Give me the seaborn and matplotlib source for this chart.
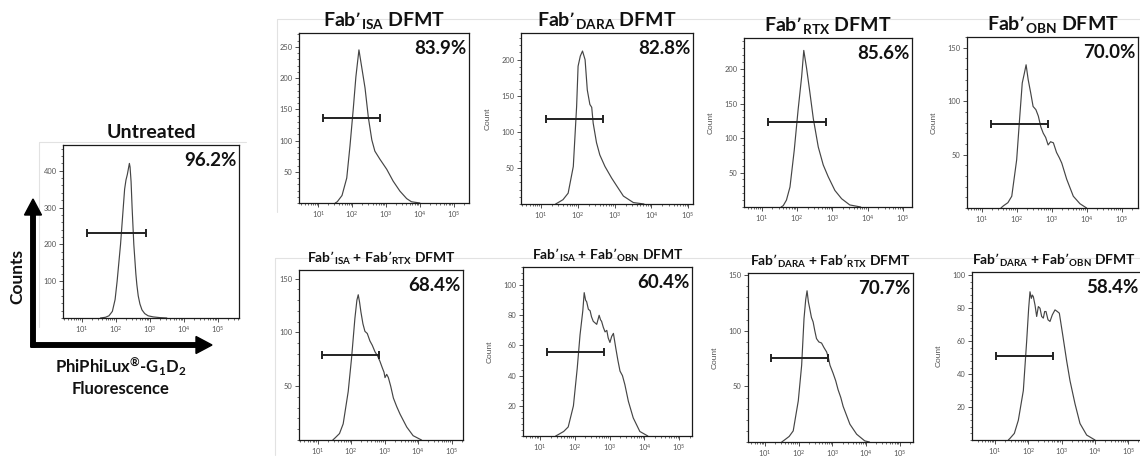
import numpy as np
import matplotlib
matplotlib.use("Agg")
import matplotlib.pyplot as plt
import seaborn as sns
from matplotlib.ticker import LogLocator, NullFormatter, FixedLocator, AutoMinorLocator

# ---- histogram data: log10 fluorescence vs. cell count ----
untreated_log_fl = [1.55, 1.70, 1.80, 1.90, 1.98, 2.04, 2.10, 2.14, 2.18, 2.22, 2.26, 2.30, 2.34,
                    2.37, 2.40, 2.42, 2.45, 2.48, 2.51, 2.53, 2.56, 2.59, 2.62, 2.66, 2.71, 2.77,
                    2.85, 2.95, 3.10, 3.30, 3.50]
untreated_count = [0, 2, 6, 18, 50, 100, 160, 200, 250, 300, 350, 375, 390,
                   405, 420, 410, 370, 300, 240, 200, 160, 120, 90, 60, 38, 22,
                   12, 6, 3, 1, 0]

isa_log_fl = [1.50, 1.56, 1.70, 1.84, 1.935, 2.03, 2.11, 2.20, 2.28, 2.38, 2.48, 2.58, 2.67, 2.82,
              3.02, 3.21, 3.41, 3.61, 3.75, 4.00]
isa_count = [0, 2, 12, 40, 91, 149, 202, 245, 218, 184, 136, 101, 83, 70,
             54, 35, 19, 7, 2, 0]

dara_log_fl = [1.40, 1.47, 1.60, 1.74, 1.88, 1.97, 2.01, 2.07, 2.13, 2.20, 2.26, 2.33, 2.38, 2.42,
               2.51, 2.60, 2.74, 2.92, 3.06, 3.24, 3.51, 3.80]
dara_count = [0, 2, 6, 15, 52, 135, 191, 205, 212, 200, 158, 138, 134, 112,
              85, 68, 52, 36, 25, 11, 2, 0]

rtx_log_fl = [1.55, 1.61, 1.70, 1.80, 1.92, 2.03, 2.13, 2.19, 2.27, 2.36, 2.46, 2.60, 2.74, 2.88,
              3.07, 3.26, 3.49, 3.80]
rtx_count = [0, 2, 10, 29, 82, 141, 189, 227, 201, 167, 128, 87, 61, 44,
             24, 12, 3, 0]

obn_log_fl = [1.55, 1.62, 1.75, 1.86, 2.00, 2.09, 2.16, 2.22, 2.27, 2.33, 2.40, 2.47, 2.55, 2.62,
              2.69, 2.76, 2.83, 2.90, 2.97, 3.05, 3.10, 3.14, 3.22, 3.29, 3.43, 3.62, 3.81, 4.00]
obn_count = [0, 2, 5, 11, 45, 86, 117, 126, 134, 120, 108, 95, 92, 86,
             76, 70, 66, 59, 62, 61, 56, 52, 47, 42, 27, 11, 4, 0]

isa_rtx_log_fl = [1.45, 1.52, 1.65, 1.76, 1.91, 2.01, 2.11, 2.17, 2.21, 2.25, 2.29, 2.35, 2.41, 2.48,
                  2.56, 2.63, 2.71, 2.79, 2.86, 2.93, 2.98, 3.01, 3.06, 3.11, 3.18, 3.26, 3.36,
                  3.46, 3.56, 3.66, 3.85, 4.10]
isa_rtx_count = [0, 2, 6, 15, 45, 76, 113, 130, 135, 128, 119, 108, 101, 99,
                 92, 88, 82, 78, 73, 67, 63, 58, 61, 58, 50, 39, 31,
                 24, 18, 12, 4, 0]

isa_obn_log_fl = [1.45, 1.53, 1.68, 1.81, 1.96, 2.07, 2.15, 2.23, 2.27, 2.31, 2.34, 2.39, 2.44,
                  2.48, 2.53, 2.58, 2.63, 2.70, 2.74, 2.77, 2.82, 2.87, 2.92, 2.96, 3.01, 3.06,
                  3.11, 3.18, 3.24, 3.30, 3.37, 3.44, 3.54, 3.68, 3.87, 4.10]
isa_obn_count = [0, 1, 3, 6, 20, 45, 67, 83, 95, 90, 89, 84, 83,
                 79, 76, 75, 74, 80, 77, 76, 72, 69, 70, 65, 62, 66,
                 68, 58, 50, 43, 40, 34, 23, 12, 3, 0]

dara_rtx_log_fl = [1.50, 1.59, 1.72, 1.84, 1.99, 2.09, 2.16, 2.21, 2.25, 2.29, 2.33, 2.38, 2.43,
                   2.48, 2.53, 2.60, 2.68, 2.75, 2.83, 2.88, 2.93, 3.02, 3.10, 3.17, 3.25, 3.32,
                   3.42, 3.52, 3.72, 3.96, 4.10]
dara_rtx_count = [0, 2, 5, 10, 37, 69, 111, 128, 136, 126, 120, 112, 108,
                  100, 93, 90, 89, 85, 81, 76, 69, 62, 55, 47, 40, 32,
                  24, 16, 7, 1, 0]

dara_obn_log_fl = [1.40, 1.45, 1.58, 1.70, 1.85, 1.95, 2.01, 2.05, 2.09, 2.12, 2.15, 2.20, 2.25,
                   2.30, 2.35, 2.40, 2.45, 2.49, 2.53, 2.59, 2.65, 2.72, 2.80, 2.87, 2.93, 3.03,
                   3.15, 3.25, 3.40, 3.55, 3.75, 4.00]
dara_obn_count = [0, 1, 4, 12, 30, 60, 80, 90, 86, 88, 87, 82, 75,
                  81, 80, 75, 74, 78, 78, 73, 72, 76, 79, 78, 77, 64,
                  48, 36, 22, 10, 3, 0]

# ---- gate (low, high, height) and gated percentage per sample ----
gate_low = [14.3, 13.5, 13.5, 15.5, 18.0, 13.5, 16.0, 15.0, 10.7]
gate_high = [770, 660, 490, 660, 800, 690, 690, 740, 540]
gate_level = [232, 136, 118, 123, 79, 79, 56, 76, 51]
gated_pct = [96.2, 83.9, 82.8, 85.6, 70.0, 68.4, 60.4, 70.7, 58.4]

titles = [
    "Untreated",
    "Fab\u2019$_{ISA}$ DFMT",
    "Fab\u2019$_{DARA}$ DFMT",
    "Fab\u2019$_{RTX}$ DFMT",
    "Fab\u2019$_{OBN}$ DFMT",
    "Fab\u2019$_{ISA}$ + Fab\u2019$_{RTX}$ DFMT",
    "Fab\u2019$_{ISA}$ + Fab\u2019$_{OBN}$ DFMT",
    "Fab\u2019$_{DARA}$ + Fab\u2019$_{RTX}$ DFMT",
    "Fab\u2019$_{DARA}$ + Fab\u2019$_{OBN}$ DFMT",
]

curves = [
    (untreated_log_fl, untreated_count),
    (isa_log_fl, isa_count),
    (dara_log_fl, dara_count),
    (rtx_log_fl, rtx_count),
    (obn_log_fl, obn_count),
    (isa_rtx_log_fl, isa_rtx_count),
    (isa_obn_log_fl, isa_obn_count),
    (dara_rtx_log_fl, dara_rtx_count),
    (dara_obn_log_fl, dara_obn_count),
]

# ---- panel geometry (pixels: left, right, top, bottom), axis ranges ----
W, H = 1140, 462
boxes = [
    (63, 239, 145, 318),
    (299, 469, 33, 203),
    (521, 693, 33, 204),
    (744, 912, 38, 207),
    (967, 1138, 37, 208),
    (299, 463, 270, 440),
    (523, 692, 267, 436),
    (748, 913, 273, 442),
    (972, 1141, 272, 440),
]
xlims = [(0.45, 5.62), (0.43, 5.45), (0.46, 5.13), (0.50, 5.25), (0.58, 5.47),
         (0.44, 5.34), (0.51, 5.37), (0.50, 5.39), (0.31, 5.38)]
ytops = [470, 272, 237, 245, 160, 158, 112, 152, 102]
ysteps = [100, 50, 50, 50, 50, 50, 20, 50, 20]
show_count_label = [False, False, True, True, True, False, True, True, True]
title_x = [0.5, 0.5, 0.5, 0.5, 0.5, 0.5, 0.5, 0.5, 0.485]

sns.set_theme(style="white")
plt.rcParams["font.family"] = ["Lato", "DejaVu Sans"]
plt.rcParams["mathtext.default"] = "regular"

fig = plt.figure(figsize=(W / 100, H / 100), dpi=100)
fig.patch.set_facecolor("white")

# full-figure canvas in pixel units for frames, arrows and axis captions
ov = fig.add_axes([0, 0, 1, 1], zorder=0)
ov.set_xlim(0, W)
ov.set_ylim(H, 0)
ov.axis("off")

frame_col = "#e2e2e2"
ov.plot([277, W], [19, 19], color=frame_col, lw=0.8)
ov.plot([277, 277], [19, 212], color=frame_col, lw=0.8)
ov.plot([275, W], [258, 258], color=frame_col, lw=0.8)
ov.plot([275, 275], [258, 455], color=frame_col, lw=0.8)
ov.plot([39, 246], [142, 142], color=frame_col, lw=0.8)
ov.plot([39, 39], [142, 327], color=frame_col, lw=0.8)

# bold "Counts" / fluorescence axis arrows
ov.arrow(33, 347, 0, -148, width=4.5, head_width=17, head_length=16,
         length_includes_head=True, color="black", zorder=3)
ov.arrow(31, 345, 181, 0, width=4.5, head_width=17, head_length=16,
         length_includes_head=True, color="black", zorder=3)
ov.text(17, 277, "Counts", rotation=90, ha="center", va="center",
        fontsize=12.5, fontweight="bold", color="#111111")
ov.text(121, 367, "PhiPhiLux$^{\u00ae}$-G$_{1}$D$_{2}$", ha="center", va="center",
        fontsize=12, fontweight="bold", color="#111111")
ov.text(121, 389, "Fluorescence", ha="center", va="center",
        fontsize=12, fontweight="bold", color="#111111")

tick_col = "#555555"
for i, (left, right, top, bottom) in enumerate(boxes):
    ax = fig.add_axes([left / W, 1 - bottom / H, (right - left) / W, (bottom - top) / H], zorder=2)
    ax.set_facecolor("white")
    logx, cnt = curves[i]
    fl = 10 ** np.asarray(logx, dtype=float)
    sns.lineplot(x=fl, y=cnt, ax=ax, color="#454545", linewidth=0.85,
                 estimator=None, sort=True)
    ax.set_xscale("log")
    ax.set_xlim(10 ** xlims[i][0], 10 ** xlims[i][1])
    ax.set_ylim(0, ytops[i])

    # gate bar
    ax.plot([gate_low[i], gate_high[i]], [gate_level[i], gate_level[i]],
            color="#222222", lw=1.4, solid_capstyle="butt")
    ax.plot([gate_low[i], gate_high[i]], [gate_level[i], gate_level[i]],
            linestyle="none", marker="|", markersize=6, mew=1.4, color="#222222")

    # ticks
    ax.xaxis.set_major_locator(FixedLocator([1e1, 1e2, 1e3, 1e4, 1e5]))
    ax.set_xticklabels([f"$10^{{{k}}}$" for k in range(1, 6)])
    ax.xaxis.set_minor_locator(LogLocator(base=10, subs=np.arange(2, 10), numticks=20))
    ax.xaxis.set_minor_formatter(NullFormatter())
    step = ysteps[i]
    yt = np.arange(step, ytops[i] + 1e-9, step)
    ax.set_yticks(yt)
    ax.set_yticklabels([f"{int(v)}" for v in yt])
    ax.yaxis.set_minor_locator(AutoMinorLocator(5))
    ax.tick_params(axis="both", which="major", direction="out", length=3, width=0.6,
                   colors="#333333", labelcolor=tick_col, labelsize=5.4, pad=1.5,
                   bottom=True, left=True)
    ax.tick_params(axis="both", which="minor", direction="out", length=1.6, width=0.5,
                   colors="#333333", bottom=True, left=True)
    for s in ax.spines.values():
        s.set_visible(True)
        s.set_color("#1a1a1a")
        s.set_linewidth(0.9)

    if show_count_label[i]:
        ax.set_ylabel("Count", fontsize=6, color=tick_col, labelpad=7,
                      family=["Liberation Sans", "DejaVu Sans"])
    else:
        ax.set_ylabel("")
    ax.set_xlabel("")

    title_size = 14 if i < 5 else 10
    ax.set_title(titles[i], fontsize=title_size, fontweight="bold", color="#111111",
                 pad=5, x=title_x[i])
    ax.annotate(f"{gated_pct[i]:.1f}%", xy=(1, 1), xycoords="axes fraction",
                xytext=(-2, -5), textcoords="offset points", ha="right", va="top",
                fontsize=13.5, fontweight="bold", color="#111111")

fig.savefig("out.png", dpi=100, facecolor="white")
